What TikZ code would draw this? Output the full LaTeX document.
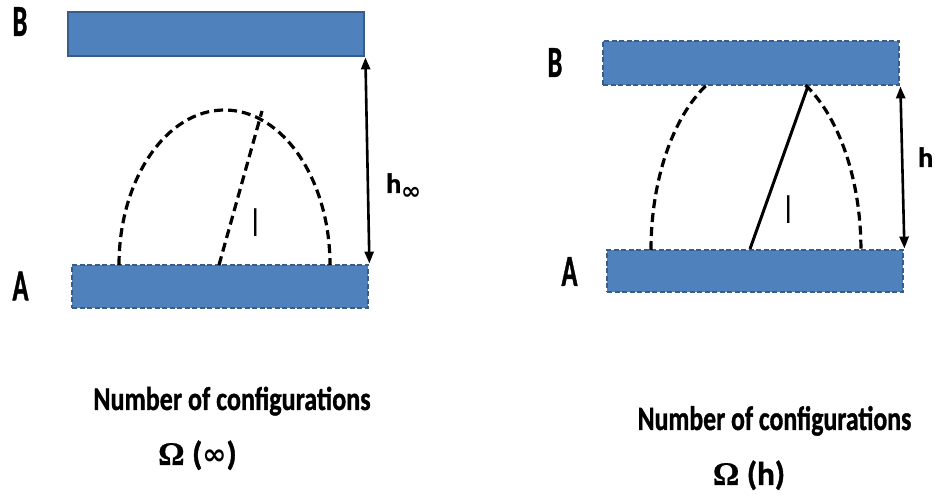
\documentclass[tikz,border=0pt]{standalone}
\usepackage{fontspec}
\setmainfont{Carlito}
\newfontfamily\heavyfont[FakeBold=1.2]{Carlito Bold}
\newfontfamily\omfont[FakeBold=0.6]{Liberation Serif Bold}
\newfontfamily\dvfont{DejaVu Sans}
\usetikzlibrary{arrows.meta}
\definecolor{barfill}{HTML}{4F81BD}
\definecolor{barline}{HTML}{385D8A}
\begin{document}
\begin{tikzpicture}[x=1pt,y=1pt,
  bar/.style={draw=barline, fill=barfill, line width=2.8pt, inner sep=0pt, minimum width=296pt},
  dbar/.style={bar, dash pattern=on 5pt off 2.5pt},
  arcline/.style={line width=3.2pt, dash pattern=on 9pt off 5pt},
  dimarrow/.style={line width=2.6pt, {Triangle[length=12pt,width=9pt]}-{Triangle[length=12pt,width=9pt]}},
  lab/.style={font=\fontsize{44}{44}\heavyfont, inner sep=0pt},
  lenlab/.style={font=\fontsize{40}{40}\selectfont, inner sep=0pt},
  captext/.style={font=\fontsize{33}{34}\heavyfont, inner sep=0pt}
]
\useasboundingbox (0,0) rectangle (934,495);

% ---------- left panel ----------
\node[bar, minimum height=44pt] (LB) at (216,461) {};
\node[dbar, minimum height=43pt] (LA) at (220,208.5) {};
\node[lab] (lB) at (20,473.5) {\scalebox{0.6}[1]{B}};
\node[lab] (lA) at (20.5,209) {\scalebox{0.6}[1]{A}};

\draw[arcline] (119,230) arc[start angle=180, end angle=0, x radius=105.5, y radius=155];
\draw[arcline] (219,230) -- (262,384);
\node[lenlab] (ll) at (256,272) {\scalebox{0.7}[1]{l}};

\draw[dimarrow] (LB.south east) -- (LA.north east);
\node[anchor=base west, inner sep=0pt, font=\fontsize{28}{28}\heavyfont] (hinf) at (386,302)
  {h\raisebox{-7pt}{\dvfont\bfseries\fontsize{24}{24}\selectfont ∞}};

\node[captext, anchor=base] (c1) at (232,85) {\scalebox{0.79}[1]{Number of configurations}};
\node[captext, anchor=base] (o1) at (197.5,30)
  {{\omfont Ω} ({\dvfont\bfseries\fontsize{29}{29}\selectfont ∞})};

% ---------- right panel ----------
\node[dbar, minimum height=44pt] (RB) at (751,432) {};
\node[dbar, minimum height=42pt] (RA) at (755,224) {};
\node[lab] (rB) at (555,432.5) {\scalebox{0.6}[1]{B}};
\node[lab] (rA) at (569.5,223.5) {\scalebox{0.6}[1]{A}};

\draw[arcline] (651,245) arc[start angle=180, end angle=118.1, x radius=105, y radius=187];
\draw[arcline] (805.4,410) arc[start angle=61.9, end angle=0, x radius=105, y radius=187];
\draw[line width=3pt] (750,246) -- (808,409);
\node[lenlab] (rl) at (789,285) {\scalebox{0.7}[1]{l}};

\draw[dimarrow] (RB.south east) -- (RA.north east);
\node[anchor=base west, inner sep=0pt, font=\fontsize{28}{28}\heavyfont] (hh) at (918,328) {h};

\node[captext, anchor=base] (c2) at (774.5,65) {\scalebox{0.757}[1]{\fontsize{34}{34}\selectfont Number of configurations}};
\node[captext, anchor=base] (o2) at (749,10) {{\omfont Ω} (h)};
\end{tikzpicture}
\end{document}
